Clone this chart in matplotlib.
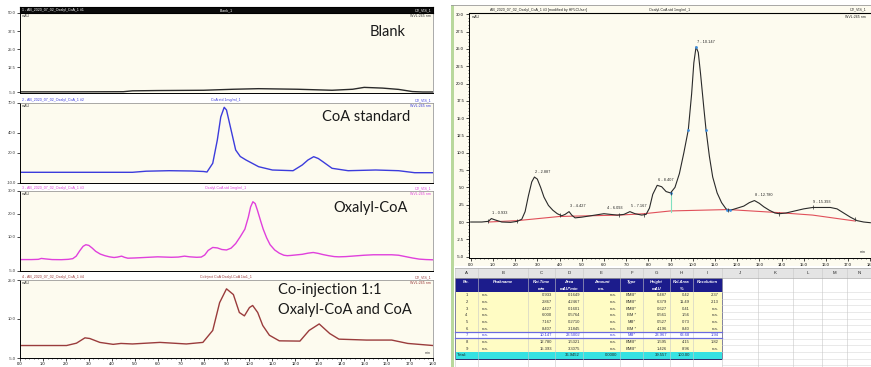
import matplotlib
matplotlib.use('Agg')
import matplotlib.pyplot as plt
import numpy as np
from matplotlib.patches import Rectangle
from matplotlib.ticker import MultipleLocator, FormatStrFormatter

# ---------------- DATA ----------------
# Blank (panel 1)
blank_t = [0.0, 2.0, 4.5, 4.9, 6.0, 8.0, 9.3, 10.4, 12.1, 13.6, 14.5, 15.0, 15.8, 16.5, 17.1, 17.55, 18.0]
blank_v = [-4.7, -4.7, -4.6, -4.0, -3.8, -3.6, -2.9, -2.5, -2.9, -3.6, -2.9, -1.6, -2.1, -3.0, -4.5, -4.8, -4.8]

# CoA standard (panel 2)
coa_t = [0.0, 2.5, 4.9, 5.5, 6.5, 7.5, 8.0, 8.15, 8.4, 8.6, 8.75, 8.9, 9.0, 9.2, 9.4, 9.6, 9.85, 10.4,
         11.0, 11.9, 12.3, 12.55, 12.8, 13.0, 13.2, 13.6, 14.3, 15.5, 16.5, 17.2, 18.0]
coa_v = [0.7, 0.7, 0.7, 1.8, 2.3, 2.0, 1.5, 1.0, 9.7, 33.0, 56.0, 65.7, 63.0, 43.0, 23.0, 16.5, 13.0, 6.3,
         3.0, 2.3, 8.0, 13.0, 16.3, 14.5, 11.3, 4.7, 2.3, 3.0, 2.3, 0.3, 0.3]

# Oxalyl-CoA standard (panel 3 and right chromatogram)
oxa_t = [0.0, 0.5, 0.8, 0.93, 1.1, 1.4, 1.8, 2.1, 2.3, 2.45, 2.6, 2.75, 2.87, 3.0, 3.15, 3.3, 3.5, 3.7,
         3.9, 4.1, 4.25, 4.43, 4.55, 4.7, 5.0, 5.4, 5.8, 6.0, 6.3, 6.6, 6.9, 7.17, 7.4, 7.7, 7.9, 8.05,
         8.2, 8.4, 8.6, 8.8, 9.0, 9.2, 9.4, 9.6, 9.8, 9.95, 10.05, 10.15, 10.25, 10.35, 10.5, 10.6, 10.75,
         10.9, 11.1, 11.3, 11.5, 11.65, 11.8, 12.0, 12.3, 12.55, 12.78, 13.0, 13.2, 13.45, 13.7, 13.9,
         14.2, 14.6, 15.0, 15.4, 15.8, 16.2, 16.5, 16.8, 17.1, 17.4, 17.7, 18.0]
oxa_v = [0.0, 0.0, 0.1, 0.5, 0.3, 0.0, -0.05, 0.1, 0.4, 1.5, 3.8, 5.8, 6.5, 6.2, 5.0, 3.6, 2.4, 1.7,
         1.2, 0.9, 1.1, 1.5, 1.0, 0.6, 0.7, 0.9, 1.1, 1.2, 1.1, 1.0, 1.1, 1.5, 1.2, 1.0, 1.1, 2.0,
         4.0, 5.3, 5.1, 4.4, 4.2, 5.0, 7.0, 10.0, 13.3, 18.5, 23.0, 25.3, 24.5, 21.5, 16.5, 13.3, 9.5,
         6.5, 4.2, 2.8, 1.9, 1.7, 1.8, 2.0, 2.3, 2.8, 3.1, 2.7, 2.2, 1.7, 1.3, 1.2,
         1.3, 1.6, 1.9, 2.1, 2.1, 2.1, 1.9, 1.3, 0.7, 0.2, 0.0, -0.1]

# Co-injection (panel 4)
coinj_t = [0.0, 2.03, 2.46, 2.83, 3.04, 3.48, 4.06, 4.4, 4.9, 6.1, 7.25, 7.97, 8.4, 8.7, 9.0, 9.3, 9.56,
           9.78, 10.0, 10.14, 10.36, 10.58, 10.87, 11.3, 12.2, 12.6, 13.04, 13.5, 13.9, 15.1, 16.2, 16.9, 18.0]
coinj_v = [-0.2, -0.2, 0.7, 2.75, 2.5, 1.0, 0.25, 0.6, 0.4, 1.0, 0.4, 1.0, 5.6, 16.3, 21.6, 19.4, 12.5,
           11.2, 14.4, 15.2, 12.5, 7.5, 3.75, 1.6, 1.5, 5.6, 8.1, 4.4, 2.25, 1.9, 1.9, 0.6, -0.2]

# integration baseline of the right chromatogram
base_t = [0.8, 2.1, 4.0, 6.7, 7.8, 9.0, 11.6, 13.9, 15.4, 17.3]
base_v = [0.0, 0.2, 0.8, 1.0, 1.2, 1.6, 1.8, 1.35, 1.0, 0.15]

# peak-table
peak_no = ['1', '2', '3', '4', '5', '6', '7', '8', '9']
peak_name = ['n.a.'] * 9
ret_time = ['0.933', '2.867', '4.427', '6.000', '7.167', '8.407', '10.147', '12.780', '15.393']
peak_area = ['0.1649', '4.2467', '0.1601', '0.5764', '0.2710', '3.1845', '23.5002', '1.5321', '3.3075']
amount = ['n.a.'] * 9
peak_type = ['BMB*', 'BMB*', 'BMB*', 'BM *', 'MB*', 'BM *', 'MB*', 'BMB*', 'BMB*']
peak_height = ['0.487', '6.379', '0.627', '0.561', '0.527', '4.196', '23.967', '1.595', '1.426']
rel_area = ['0.42', '11.49', '0.41', '1.56', '0.73', '8.40', '63.68', '4.15', '8.96']
resolution = ['2.37', '2.13', 'n.a.', 'n.a.', 'n.a.', 'n.a.', '1.94', '1.82', 'n.a.']
total_row = ['Total:', '', '', '36.9452', '0.0000', '', '39.557', '100.00', '']
peak_label_rt = [0.933, 2.887, 4.427, 6.093, 7.167, 8.407, 10.147, 12.780, 15.393]
peak_label_txt = ['1 - 0.933', '2 - 2.887', '3 - 4.427', '4 - 6.093', '5 - 7.167', '6 - 8.407',
                  '7 - 10.147', '8 - 12.780', '9 - 15.393']
blue_dot_t = [9.0, 9.8, 10.15, 10.6, 11.55, 11.7]
blue_dot_v = [4.2, 13.3, 25.3, 13.3, 1.75, 1.7]
col_letters = ['A', 'B', 'C', 'D', 'E', 'F', 'G', 'H', 'I', 'J', 'K', 'L', 'M', 'N']
head1 = ['No.', 'Peakname', 'Ret.Time', 'Area', 'Amount', 'Type', 'Height', 'Rel.Area', 'Resolution']
head2 = ['', '', 'min', 'mAU*min', 'n.a.', '', 'mAU', '%', '']

# ---------------- FIGURE ----------------
W, H = 871, 367
fig = plt.figure(figsize=(W / 100, H / 100), dpi=100)
fig.patch.set_facecolor('white')
SMALL = 'Liberation Sans'
BIG = 'Lato'
CREAM = '#FDFBEF'


def pax(x0, y0, x1, y1, **kw):
    return fig.add_axes([x0 / W, 1 - y1 / H, (x1 - x0) / W, (y1 - y0) / H], **kw)


def ftext(x, y, s, **kw):
    kw.setdefault('family', SMALL)
    fig.text(x / W, 1 - y / H, s, **kw)


# ---------------- LEFT PANELS ----------------
panels = [
    dict(t=blank_t, v=blank_v, col='#2a2a2a', top=13, bot=93, ylim=(-5.5, 50), yt=[50, 37.5, 25, 12.5, -5],
         yl=['50.0', '37.5', '25.0', '12.5', '-5.0'], name='Blank_1', num='1', label=['Blank'], lx=370, ly=[32]),
    dict(t=coa_t, v=coa_v, col='#3c3cdc', top=103, bot=183, ylim=(-10, 70), yt=[70, 40, 20, -10],
         yl=['70.0', '40.0', '20.0', '-10.0'], name='CoA std 1mg/ml_1', num='2', label=['CoA standard'], lx=322, ly=[117]),
    dict(t=oxa_t, v=oxa_v, col='#e040dc', top=191, bot=271, ylim=(-5, 30), yt=[30, 20, 10, -5],
         yl=['30.0', '20.0', '10.0', '-5.0'], name='Oxalyl-CoA std 1mg/ml_1', num='3', label=['Oxalyl-CoA'], lx=333, ly=[208]),
    dict(t=coinj_t, v=coinj_v, col='#9a3c3c', top=280, bot=358, ylim=(-5, 25), yt=[25, 10, -5],
         yl=['25.0', '10.0', '-5.0'], name='CoInject CoA Oxalyl-CoA 1to1_1', num='4',
         label=['Co-injection 1:1', 'Oxalyl-CoA and CoA'], lx=278, ly=[290, 310]),
]

for i, p in enumerate(panels):
    ax = pax(20, p['top'], 433, p['bot'])
    ax.set_facecolor(CREAM)
    ax.plot(p['t'], p['v'], color=p['col'], lw=1.0)
    ax.set_xlim(0, 18)
    ax.set_ylim(*p['ylim'])
    ax.set_yticks(p['yt'])
    ax.set_yticklabels(p['yl'], fontsize=3, family=SMALL, color='#333333')
    ax.tick_params(axis='y', length=2, width=0.5, pad=1)
    for s in ['top', 'right']:
        ax.spines[s].set_color('#888888')
        ax.spines[s].set_linewidth(0.5)
    ax.spines['left'].set_linewidth(0.7)
    ax.spines['bottom'].set_linewidth(0.7)
    if i == 3:
        ax.xaxis.set_major_locator(MultipleLocator(1.0))
        ax.xaxis.set_minor_locator(MultipleLocator(0.2))
        ax.xaxis.set_major_formatter(FormatStrFormatter('%.1f'))
        ax.tick_params(axis='x', which='major', length=2, width=0.5, pad=0.8, labelsize=3)
        ax.tick_params(axis='x', which='minor', length=1, width=0.4)
        for lab in ax.get_xticklabels():
            lab.set_family(SMALL)
        ax.text(0.995, 0.04, 'min', transform=ax.transAxes, fontsize=2.6, ha='right', va='bottom',
                family=SMALL, color='#333333')
    else:
        ax.set_xticks([])
    hy = p['top'] - 3
    if i == 0:
        bar = pax(20, 7, 433, 13)
        bar.set_facecolor('#0a0a0a')
        bar.set_xticks([]); bar.set_yticks([])
        hc = 'white'
    else:
        hc = p['col']
    ftext(22, hy, p['num'] + ' - AB_2020_07_02_Oxalyl_CoA_1 #' + p['num'], fontsize=2.6, color=hc, va='center')
    ftext(226, hy, p['name'], fontsize=2.6, color=hc, va='center', ha='center')
    ftext(431, hy, 'UV_VIS_1', fontsize=2.6, color=hc, va='center', ha='right')
    ftext(22, p['top'] + 3, 'mAU', fontsize=2.6, color='#333333', va='center')
    ftext(431, p['top'] + 3, 'WVL:265 nm', fontsize=2.6, color=hc if i else '#333333', va='center', ha='right')
    for lab, yy in zip(p['label'], p['ly']):
        ftext(p['lx'], yy, lab, fontsize=10.5, family=BIG, color='#1a1a1a', va='center', ha='left')

# ---------------- RIGHT WINDOW ----------------
fig.add_artist(Rectangle((451 / W, 0), 3 / W, 1 - 5 / H, transform=fig.transFigure,
                         facecolor='#b9d89c', edgecolor='none'))
fig.add_artist(plt.Line2D([451 / W, 1], [1 - 5 / H, 1 - 5 / H], transform=fig.transFigure,
                          color='#9a9a9a', lw=0.6))
bg = pax(454, 5, 871, 266)
bg.set_facecolor(CREAM)
bg.set_xticks([]); bg.set_yticks([])
for s in bg.spines.values():
    s.set_visible(False)

rx = pax(469, 13, 871, 258)
rx.set_facecolor(CREAM)
rx.plot(base_t, base_v, color='#e0505a', lw=0.8)
rx.plot(oxa_t, oxa_v, color='#2a2a2a', lw=0.8)
rx.plot([9.0, 9.0], [1.5, 4.2], color='#80e0c0', lw=0.8)
rx.plot(blue_dot_t, blue_dot_v, 'o', color='#3d8fe0', ms=2.0, mew=0)
rx.plot(base_t, np.interp(base_t, oxa_t, oxa_v), '|', color='#2a2a2a', ms=2.5, mew=0.5)
rx.set_xlim(-0.077, 18.03)
rx.set_ylim(-5.2, 30.2)
rx.yaxis.set_major_locator(MultipleLocator(2.5))
rx.yaxis.set_minor_locator(MultipleLocator(0.5))
rx.xaxis.set_major_locator(MultipleLocator(1.0))
rx.xaxis.set_minor_locator(MultipleLocator(0.2))
rx.yaxis.set_major_formatter(FormatStrFormatter('%.1f'))
rx.xaxis.set_major_formatter(FormatStrFormatter('%.1f'))
rx.tick_params(which='major', length=2, width=0.5, pad=1.5, labelsize=3)
rx.tick_params(which='minor', length=1, width=0.4)
for lab in rx.get_xticklabels() + rx.get_yticklabels():
    lab.set_family(SMALL)
rx.spines['right'].set_visible(False)
rx.spines['top'].set_linewidth(0.8)
rx.spines['left'].set_linewidth(0.7)
rx.spines['bottom'].set_linewidth(0.7)
for rt, txt in zip(peak_label_rt, peak_label_txt):
    yv = np.interp(rt, oxa_t, oxa_v)
    rx.annotate(txt, (rt, yv), xytext=(0.5, 2.5), textcoords='offset points', fontsize=2.8,
                family=SMALL, color='#222222', ha='left', va='bottom')
ftext(490, 9.5, 'AB_2020_07_02_Oxalyl_CoA_1 #3 [modified by HPLCUser]', fontsize=2.6, color='#222222', va='center')
ftext(670, 9.5, 'Oxalyl-CoA std 1mg/ml_1', fontsize=2.6, color='#222222', va='center', ha='center')
ftext(866, 9.5, 'UV_VIS_1', fontsize=2.6, color='#222222', va='center', ha='right')
ftext(472, 17, 'mAU', fontsize=2.6, color='#222222', va='center')
ftext(866, 17, 'WVL:265 nm', fontsize=2.6, color='#222222', va='center', ha='right')
ftext(866, 252, 'min', fontsize=2.6, color='#222222', va='center', ha='right')

# ---------------- TABLE ----------------
tx = pax(440, 265, 871, 367)
tx.set_xlim(440, 871)
tx.set_ylim(367, 265)
tx.axis('off')
edges = [455, 478, 528, 555, 583, 620, 643, 670, 693, 722, 758, 793, 822, 847, 871]
row_h = 6.67
tx.add_patch(Rectangle((451, 266), 420, 101, facecolor='white', edgecolor='none'))
tx.add_patch(Rectangle((451, 266), 3, 101, facecolor='#b9d89c', edgecolor='none'))
tx.add_patch(Rectangle((455, 268), 416, 10, facecolor='#e4e4e4', edgecolor='none'))
for j, L in enumerate(col_letters):
    tx.text((edges[j] + edges[j + 1]) / 2, 273, L, fontsize=3.2, ha='center', va='center',
            family=SMALL, color='#222222')
# grid on right part
for k in range(14):
    yy = 292 + k * row_h
    tx.plot([722, 871], [yy, yy], color='#d8d8d8', lw=0.4)
for e in edges:
    tx.plot([e, e], [268, 367], color='#c8c8c8', lw=0.4)
tx.plot([455, 871], [268, 268], color='#aaaaaa', lw=0.5)
tx.plot([455, 871], [278, 278], color='#aaaaaa', lw=0.5)
# header
tx.add_patch(Rectangle((455, 278), 267, 14, facecolor='#1c1c8c', edgecolor='none'))
for j in range(9):
    cx = (edges[j] + edges[j + 1]) / 2
    tx.text(cx, 282, head1[j], fontsize=3.0, ha='center', va='center', family=SMALL, color='white',
            style='italic', weight='bold')
    tx.text(cx, 288.5, head2[j], fontsize=3.0, ha='center', va='center', family=SMALL, color='white',
            style='italic', weight='bold')
# rows
cols = [peak_no, peak_name, ret_time, peak_area, amount, peak_type, peak_height, rel_area, resolution]
aligns = ['center', 'left', 'right', 'right', 'right', 'center', 'right', 'right', 'right']
for r in range(9):
    y0 = 292 + r * row_h
    hl = (r == 6)
    tx.add_patch(Rectangle((455, y0), 267, row_h, facecolor='white' if hl else '#fffcc4', edgecolor='none'))
    if hl:
        tx.plot([455, 722], [y0 + 0.3, y0 + 0.3], color='#6a6ae0', lw=0.9)
        tx.plot([455, 722], [y0 + row_h - 0.3, y0 + row_h - 0.3], color='#6a6ae0', lw=0.9)
    tc = '#3a3ad8' if hl else '#333333'
    for j in range(9):
        a = aligns[j]
        if a == 'center':
            xx = (edges[j] + edges[j + 1]) / 2
        elif a == 'left':
            xx = edges[j] + 4
        else:
            xx = edges[j + 1] - 3
        tx.text(xx, y0 + row_h / 2, cols[j][r], fontsize=3.0, ha=a, va='center', family=SMALL, color=tc)
# total
ty = 292 + 9 * row_h
tx.add_patch(Rectangle((455, ty), 267, 6.5, facecolor='#36e2e2', edgecolor='none'))
for j in range(9):
    if total_row[j]:
        if j == 0:
            tx.text(457, ty + 3.25, total_row[j], fontsize=3.0, ha='left', va='center', family=SMALL, color='#222222')
        else:
            tx.text(edges[j + 1] - 3, ty + 3.25, total_row[j], fontsize=3.0, ha='right', va='center',
                    family=SMALL, color='#222222')
tx.add_patch(Rectangle((455, 278), 267, ty + 6.5 - 278, facecolor='none', edgecolor='#2a2a6a', lw=0.7))

fig.savefig('out.png', dpi=100, facecolor='white')
